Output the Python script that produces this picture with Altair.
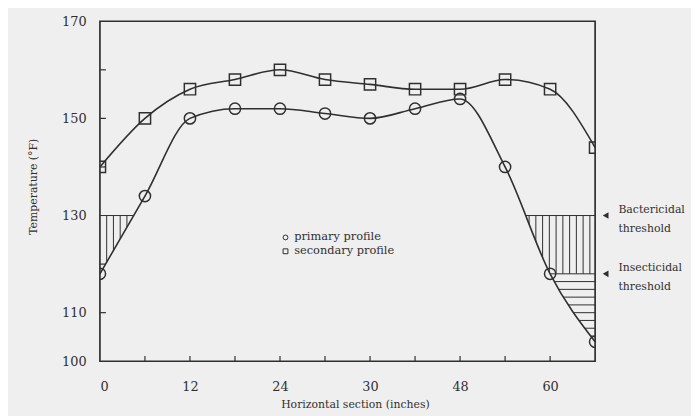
import altair as alt
import pandas as pd

# ---------------- data ----------------
x_pos = [0, 6, 12, 18, 24, 30, 36, 42, 48, 54, 60, 66]
primary = [118, 134, 150, 152, 152, 151, 150, 152, 154, 140, 118, 104]
secondary = [140, 150, 156, 158, 160, 158, 157, 156, 156, 158, 156, 144]
series_names = ["primary profile", "secondary profile"]

x_label_values = [0, 12, 24, 36, 48, 60]
x_label_texts = ["0", "12", "24", "30", "48", "60"]
x_minor_ticks = [6, 12, 18, 24, 30, 36, 42, 48, 54, 60]
y_label_values = [100, 110, 130, 150, 170]
y_minor_ticks = [110, 120, 140, 150, 160]

bactericidal = 130
insecticidal = 118
threshold_first = ["Bactericidal", "Insecticidal"]
threshold_second = ["threshold", "threshold"]

left_hatch_x = [0.9, 1.8, 2.7, 3.6]
right_hatch_x = [57.2, 58.1, 59.0, 59.9, 60.8, 61.7, 62.6, 63.5, 64.4, 65.3]
right_hatch_y = [116.4, 114.8, 113.2, 111.6, 110.0, 108.4, 106.8, 105.2]

# ---------------- styling ----------------
BG = "#efefef"
INK = "#2f2f2f"
SERIF = "DejaVu Serif"
X_DOMAIN = [0, 66]
Y_DOMAIN = [100, 170]
X_TITLE = "Horizontal section (inches)"
Y_TITLE = "Temperature (°F)"

label_expr = "datum.label"
for v, t in zip(x_label_values, x_label_texts):
    label_expr = f"datum.value == {v} ? '{t}' : ({label_expr})"

x_scale = alt.Scale(domain=X_DOMAIN, nice=False, zero=False)
y_scale = alt.Scale(domain=Y_DOMAIN, nice=False, zero=False)

x_axis = alt.Axis(values=x_label_values, labelExpr=label_expr, ticks=False, domain=False,
                  grid=False, labelPadding=20, labelFontSize=13, labelFont=SERIF,
                  labelColor=INK, titleFont=SERIF, titleFontSize=11, titleFontWeight="normal",
                  titleColor=INK, titlePadding=5, titleX=258, zindex=1)
y_axis = alt.Axis(values=y_label_values, ticks=False, domain=False, grid=False,
                  labelPadding=14, labelFontSize=13, labelFont=SERIF, labelColor=INK,
                  titleFont=SERIF, titleFontSize=11, titleFontWeight="normal",
                  titleColor=INK, titlePadding=23, titleY=167, zindex=1)


def X(field):
    return alt.X(field, type="quantitative", scale=x_scale, axis=x_axis, title=X_TITLE)


def Y(field):
    return alt.Y(field, type="quantitative", scale=y_scale, axis=y_axis, title=Y_TITLE)


df = pd.DataFrame({
    "x": x_pos * 2,
    "value": primary + secondary,
    "series": [series_names[0]] * len(x_pos) + [series_names[1]] * len(x_pos),
})

# hatch geometry tables
vert_rows = [{"hx": x, "lo": 112, "hi": bactericidal} for x in left_hatch_x] + \
            [{"hx": x, "lo": insecticidal, "hi": bactericidal} for x in right_hatch_x]
hatch_v = pd.DataFrame(vert_rows)
horiz_rows = [{"hy": bactericidal, "x0": 0, "x1": 8},
              {"hy": bactericidal, "x0": 50, "x1": 66},
              {"hy": insecticidal, "x0": 55, "x1": 66}] + \
             [{"hy": y, "x0": 54, "x1": 66} for y in right_hatch_y]
hatch_h = pd.DataFrame(horiz_rows)

xt = pd.DataFrame({"tx": x_minor_ticks})
yt = pd.DataFrame({"ty": y_minor_ticks})
frame = pd.DataFrame({"fx0": [X_DOMAIN[0]], "fx1": [X_DOMAIN[1]],
                      "fy0": [Y_DOMAIN[0]], "fy1": [Y_DOMAIN[1]]})
notes = pd.DataFrame({"t": [bactericidal, insecticidal],
                      "l1": threshold_first, "l2": threshold_second})

hv = alt.Chart(hatch_v).mark_rule(color=INK, strokeWidth=1).encode(
    x=X("hx"), y=Y("lo"), y2="hi:Q")
hh = alt.Chart(hatch_h).mark_rule(color=INK, strokeWidth=1).encode(
    y=Y("hy"), x=X("x0"), x2="x1:Q")

mask = alt.Chart(df).transform_filter(
    alt.datum.series == series_names[0]
).mark_area(interpolate="monotone", color=BG, opacity=1).encode(
    x=X("x"), y=Y("value"), y2=alt.datum(103))

lines = alt.Chart(df).mark_line(interpolate="monotone", color=INK, strokeWidth=1.6).encode(
    x=X("x"), y=Y("value"), detail="series:N")

points = alt.Chart(df).mark_point(filled=False, color=INK, strokeWidth=1.5,
                                  size=130, opacity=1, clip=True).encode(
    x=X("x"), y=Y("value"),
    shape=alt.Shape("series:N", scale=alt.Scale(domain=series_names, range=["circle", "square"]),
                    legend=alt.Legend(title=None, orient="none", legendX=182, legendY=213,
                                      padding=0, rowPadding=1, symbolSize=24,
                                      symbolStrokeWidth=1, symbolStrokeColor=INK,
                                      labelFont=SERIF, labelFontSize=11.5, labelColor=INK,
                                      labelOffset=3, zindex=1)),
)

xticks = alt.Chart(xt).mark_rule(color=INK, strokeWidth=1.2).encode(
    x=X("tx"), y=alt.datum(100), y2=alt.datum(101.1))
yticks = alt.Chart(yt).mark_rule(color=INK, strokeWidth=1.2).encode(
    y=Y("ty"), x=alt.datum(0), x2=alt.datum(0.8))

box = alt.Chart(frame).mark_rect(filled=False, stroke=INK, strokeWidth=1.7).encode(
    x=X("fx0"), x2="fx1:Q", y=Y("fy0"), y2="fy1:Q")

arrows = alt.Chart(notes).mark_point(shape="triangle-left", filled=True, color=INK,
                                     size=45, opacity=1).encode(
    x=alt.datum(67.4), y=Y("t"))
text1 = alt.Chart(notes).mark_text(align="left", baseline="middle", dy=-5.5, font=SERIF,
                                   fontSize=11, color=INK).encode(
    x=alt.datum(69.1), y=Y("t"), text="l1:N")
text2 = alt.Chart(notes).mark_text(align="left", baseline="middle", dy=13.5, font=SERIF,
                                   fontSize=11, color=INK).encode(
    x=alt.datum(69.1), y=Y("t"), text="l2:N")

chart = alt.layer(hv, hh, mask, lines, points, xticks, yticks, box, arrows, text1, text2).properties(
    width=501, height=344,
    padding={"left": 93, "top": 11, "right": 97, "bottom": 53},
    autosize=alt.AutoSizeParams(type="none"),
    background=BG,
).configure_view(stroke="transparent")

chart.save("out.html", embed_options={"renderer": "svg", "actions": False})
